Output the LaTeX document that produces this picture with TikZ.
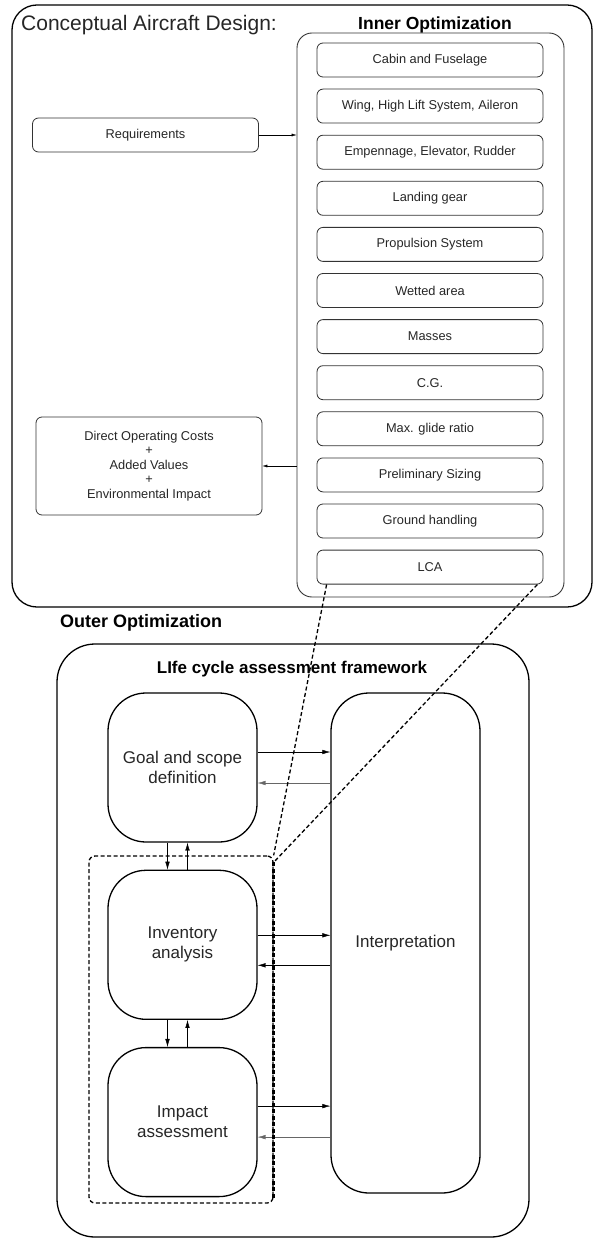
\documentclass[tikz,border=0pt]{standalone}
\usepackage{fontspec}
\setmainfont{Liberation Sans}
\usepackage{tikz}
\usetikzlibrary{chains,scopes,positioning,arrows.meta}

\begin{document}
\begin{tikzpicture}[x=1pt,y=-1pt,
	box/.style={draw=black!80,line width=0.8pt,rounded corners=6pt,minimum width=226pt,minimum height=34pt,inner sep=2pt,font=\fontsize{12.8}{14.5}\selectfont,text=black!85},
	phase/.style={draw,line width=1.3pt,rounded corners=38pt,minimum width=149pt,minimum height=149pt,align=center,font=\fontsize{17}{20}\selectfont,text=black!85},
	dashline/.style={dash pattern=on 4pt off 2.5pt,line width=1.3pt},
	>={Latex[length=8pt,width=4.5pt]}]
	
	\useasboundingbox (0,0) rectangle (594,1238);
	
	%%% Conceptual Aircraft Design
	\node[draw,line width=1.3pt,rounded corners=25pt,minimum width=580pt,minimum height=602pt] (cad) at (302,306) {};
	\node[anchor=base west,inner sep=0pt,font=\fontsize{21}{24}\selectfont,text=black!85] (cadt) at (21,31) {Conceptual Aircraft Design:};
	\node[draw=black!80,line width=0.9pt,rounded corners=15pt,minimum width=267pt,minimum height=564pt] (inner) at (430.5,315) {};
	\node[anchor=base,inner sep=0pt,font=\bfseries\fontsize{17.5}{20}\selectfont] (innert) at (435,30) {Inner Optimization};
	
	%% Inner Optimization
	\begin{scope}[start chain=going below,node distance=11.3pt]
	\node[box,on chain] (s1) at (430,60) {Cabin and Fuselage};
	\node[box,on chain] (s2) {Wing, High Lift System, Aileron};
	\node[box,on chain] (s3) {Empennage, Elevator, Rudder};
	\node[box,on chain] (s4) {Landing gear};
	\node[box,on chain] (s5) {Propulsion System};
	\node[box,on chain] (s6) {Wetted area};
	\node[box,on chain] (s7) {Masses};
	\node[box,on chain] (s8) {C.G.};
	\node[box,on chain] (s9) {Max. glide ratio};
	\node[box,on chain] (s10) {Preliminary Sizing};
	\node[box,on chain] (s11) {Ground handling};
	\node[box,on chain] (s12) {LCA};
	\end{scope};
	
	\node[box] (req) at (145.5,135) {Requirements};
	\node[box,minimum height=98pt,align=center] (doc) at (149,466) {Direct Operating Costs\\+\\Added Values\\+\\Environmental Impact};
	
	%% Frecce Conceptual Design
	\draw[->,>={Latex[length=5pt,width=3pt]}] (req.east) -- (req.east -| inner.west);
	\draw[->,>={Latex[length=5pt,width=3pt]}] (inner.west |- doc.east) -- (doc.east);
	
	%%% Outer Optimization
	\node[anchor=base west,inner sep=0pt,font=\bfseries\fontsize{18}{20}\selectfont] (outert) at (60,627) {Outer Optimization};
	\node[draw,line width=1.3pt,rounded corners=38pt,minimum width=472pt,minimum height=593pt] (lcaf) at (293,940.5) {};
	\node[anchor=base,inner sep=0pt,font=\bfseries\fontsize{17}{20}\selectfont] (lcat) at (292,673) {LIfe cycle assessment framework};
	
	\begin{scope}[start chain=going below,node distance=27pt]
	\node[phase,on chain] (goal) at (182.5,767.5) {Goal and scope\\definition};
	\node[phase,on chain] (inv) {Inventory\\analysis};
	\node[phase,on chain] (imp) {Impact\\assessment};
	\end{scope};
	\node[phase,minimum height=500pt] (interp) at (405.5,943) {Interpretation};
	
	%% Frecce LCA
	\draw[->] ([yshift=15.5pt]goal.east) -- ([yshift=15.5pt]goal.east -| interp.west);
	\draw[->,black!60] ([yshift=-15.5pt]goal.east -| interp.west) -- ([yshift=-15.5pt]goal.east);
	\draw[->] ([yshift=9.5pt]inv.east) -- ([yshift=9.5pt]inv.east -| interp.west);
	\draw[->] ([yshift=-20.5pt]inv.east -| interp.west) -- ([yshift=-20.5pt]inv.east);
	\draw[->] ([yshift=16pt]imp.east) -- ([yshift=16pt]imp.east -| interp.west);
	\draw[->,black!60] ([yshift=-15pt]imp.east -| interp.west) -- ([yshift=-15pt]imp.east);
	
	\draw[->] ([xshift=-15pt]goal.south) -- ([xshift=-15pt]inv.north);
	\draw[->] ([xshift=5pt]inv.north) -- ([xshift=5pt]goal.south);
	\draw[->] ([xshift=-15pt]inv.south) -- ([xshift=-15pt]imp.north);
	\draw[->] ([xshift=5pt]imp.north) -- ([xshift=5pt]inv.south);
	
	%% Bordo tratteggiato
	\node[draw,dashline,rounded corners=6pt,minimum width=184pt,minimum height=347pt] (dbox) at (181,1029.5) {};
	\draw[dashline,line width=2.4pt] ([yshift=-7pt]dbox.north east) -- ([yshift=6pt]dbox.south east);
	\draw[dashline] ([xshift=10pt]s12.south west) -- (dbox.north east);
	\draw[dashline] ([xshift=-6pt]s12.south east) -- ([yshift=-7pt]dbox.north east);
\end{tikzpicture}
\end{document}
